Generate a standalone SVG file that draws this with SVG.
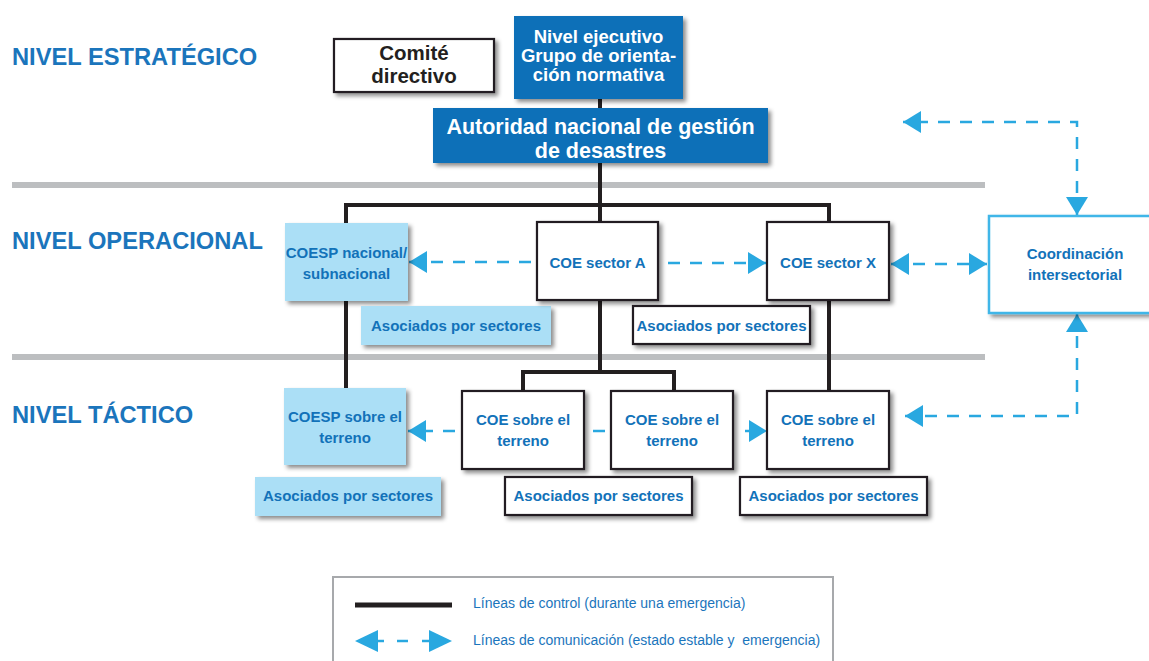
<svg xmlns="http://www.w3.org/2000/svg" width="1149" height="661" viewBox="0 0 1149 661">
<defs>
<filter id="sh" x="-10%" y="-10%" width="130%" height="140%">
<feDropShadow dx="3" dy="3" stdDeviation="2" flood-color="#000" flood-opacity="0.45"/>
</filter>
<marker id="arr" markerUnits="userSpaceOnUse" markerWidth="19" markerHeight="22" refX="18" refY="11" orient="auto-start-reverse" viewBox="0 0 19 22">
<path d="M0,0 L18,11 L0,22 Z" fill="#29a8e0"/>
</marker>
<style>
.lvl{font-family:"Liberation Sans",Arial,sans-serif;font-weight:bold;font-size:23.7px;fill:#1b75bc}
.t{font-family:"Liberation Sans",Arial,sans-serif;font-weight:bold;font-size:15px;fill:#1272b9;text-anchor:middle}
.w{font-family:"Liberation Sans",Arial,sans-serif;font-weight:bold;fill:#fff;text-anchor:middle}
.k{font-family:"Liberation Sans",Arial,sans-serif;font-weight:bold;font-size:20.5px;fill:#231f20;text-anchor:middle}
.lg{font-family:"Liberation Sans",Arial,sans-serif;font-size:14px;fill:#1b75bc;white-space:pre}
.wb{fill:#fff;stroke:#231f20;stroke-width:2.2;filter:url(#sh)}
.lb{fill:#abdff6;filter:url(#sh)}
.db{fill:#0a70b8;filter:url(#sh)}
.ctl{fill:none;stroke:#231f20;stroke-width:4}
.com{fill:none;stroke:#29a8e0;stroke-width:2.5;stroke-dasharray:12 10}
.bar{fill:#bcbec0}
</style>
</defs>
<rect width="1149" height="661" fill="#fff"/>

<g id="levels">
<text class="lvl" x="12" y="65">NIVEL ESTRATÉGICO</text>
<text class="lvl" x="12" y="249">NIVEL OPERACIONAL</text>
<text class="lvl" x="12" y="423" font-size="23">NIVEL TÁCTICO</text>
<rect class="bar" x="12" y="182" width="973" height="6"/>
<rect class="bar" x="12" y="354" width="973" height="6"/>
</g>

<g id="connectors">
<g id="control-lines">
<path class="ctl" d="M600 99 V205"/>
<path class="ctl" d="M346 223 V205 H829 V222"/>
<path class="ctl" d="M600 205 V222"/>
<path class="ctl" d="M346 301 V388"/>
<path class="ctl" d="M600 300 V372"/>
<path class="ctl" d="M523 391 V372 H674 V391"/>
<path class="ctl" d="M829 300 V391"/>
</g>
<g id="comm-lines">
<path class="com" d="M531 262 H409" marker-end="url(#arr)"/>
<path class="com" d="M668 263 H766" marker-end="url(#arr)"/>
<path class="com" d="M891 264 H987" marker-start="url(#arr)" marker-end="url(#arr)"/>
<path class="com" d="M1077 215 V122 H903" marker-start="url(#arr)" marker-end="url(#arr)"/>
<path class="com" d="M1077 314 V416 H905" marker-start="url(#arr)" marker-end="url(#arr)"/>
<path class="com" d="M455 431 H408" marker-end="url(#arr)"/>
<path class="com" d="M593 431 H606"/>
<path class="com" d="M745 431 H767" marker-end="url(#arr)"/>
</g>
</g>

<g id="comite">
<rect class="wb" x="334" y="39" width="160" height="53"/>
<text class="k" x="414" y="60">Comité</text>
<text class="k" x="414" y="83">directivo</text>
</g>

<g id="ejecutivo">
<rect class="db" x="514" y="16" width="169" height="83"/>
<text class="w" font-size="18.5" x="598.5" y="43">Nivel ejecutivo</text>
<text class="w" font-size="18.5" x="598.5" y="62">Grupo de orienta-</text>
<text class="w" font-size="18.5" x="598.5" y="81">ción normativa</text>
</g>

<g id="autoridad">
<rect class="db" x="433" y="108" width="335" height="55"/>
<text class="w" font-size="21.5" x="600.5" y="134">Autoridad nacional de gestión</text>
<text class="w" font-size="21.5" x="600.5" y="158">de desastres</text>
</g>

<g id="coesp-nacional">
<rect class="lb" x="285" y="223" width="123" height="78"/>
<text class="t" x="346.5" y="258">COESP nacional/</text>
<text class="t" x="346.5" y="279">subnacional</text>
</g>
<g id="asoc-1">
<rect class="lb" x="361" y="306" width="190" height="39"/>
<text class="t" x="456" y="331">Asociados por sectores</text>
</g>

<g id="coe-a">
<rect class="wb" x="537" y="222" width="121" height="78"/>
<text class="t" x="597.5" y="268">COE sector A</text>
</g>
<g id="asoc-2">
<rect class="wb" x="633" y="306" width="177" height="38"/>
<text class="t" x="721.5" y="331">Asociados por sectores</text>
</g>

<g id="coe-x">
<rect class="wb" x="767" y="222" width="122" height="78"/>
<text class="t" x="828" y="268">COE sector X</text>
</g>

<g id="coordinacion">
<rect x="989" y="216" width="165" height="97" fill="#fff" stroke="#3fb6e8" stroke-width="2.5" filter="url(#sh)"/>
<text class="t" x="1075" y="259">Coordinación</text>
<text class="t" x="1075" y="280">intersectorial</text>
</g>

<g id="coesp-terreno">
<rect class="lb" x="284" y="388" width="122" height="77"/>
<text class="t" x="345" y="422">COESP sobre el</text>
<text class="t" x="345" y="443">terreno</text>
</g>
<g id="asoc-3">
<rect class="lb" x="255" y="477" width="186" height="39"/>
<text class="t" x="348" y="501">Asociados por sectores</text>
</g>

<g id="coe-terreno-1">
<rect class="wb" x="462" y="391" width="122" height="78"/>
<text class="t" x="523" y="425">COE sobre el</text>
<text class="t" x="523" y="446">terreno</text>
</g>
<g id="coe-terreno-2">
<rect class="wb" x="611" y="391" width="122" height="78"/>
<text class="t" x="672" y="425">COE sobre el</text>
<text class="t" x="672" y="446">terreno</text>
</g>
<g id="asoc-4">
<rect class="wb" x="505" y="477" width="187" height="38"/>
<text class="t" x="598.5" y="501">Asociados por sectores</text>
</g>

<g id="coe-terreno-3">
<rect class="wb" x="767" y="391" width="122" height="78"/>
<text class="t" x="828" y="425">COE sobre el</text>
<text class="t" x="828" y="446">terreno</text>
</g>
<g id="asoc-5">
<rect class="wb" x="740" y="477" width="187" height="38"/>
<text class="t" x="833.5" y="501">Asociados por sectores</text>
</g>

<g id="legend">
<rect x="333" y="577" width="500" height="92" fill="#fff" stroke="#a7a9ac" stroke-width="2"/>
<line x1="355" y1="605" x2="452" y2="605" stroke="#231f20" stroke-width="5"/>
<text class="lg" x="473" y="608">Líneas de control (durante una emergencia)</text>
<polygon points="355,641 378,630 378,652" fill="#29a8e0"/>
<line x1="376" y1="641" x2="384" y2="641" stroke="#29a8e0" stroke-width="2.5"/>
<line x1="397" y1="641" x2="408" y2="641" stroke="#29a8e0" stroke-width="2.5"/>
<line x1="422" y1="641" x2="432" y2="641" stroke="#29a8e0" stroke-width="2.5"/>
<polygon points="452,641 429,630 429,652" fill="#29a8e0"/>
<text class="lg" x="473" y="645" xml:space="preserve">Líneas de comunicación (estado estable y  emergencia)</text>
</g>
</svg>
